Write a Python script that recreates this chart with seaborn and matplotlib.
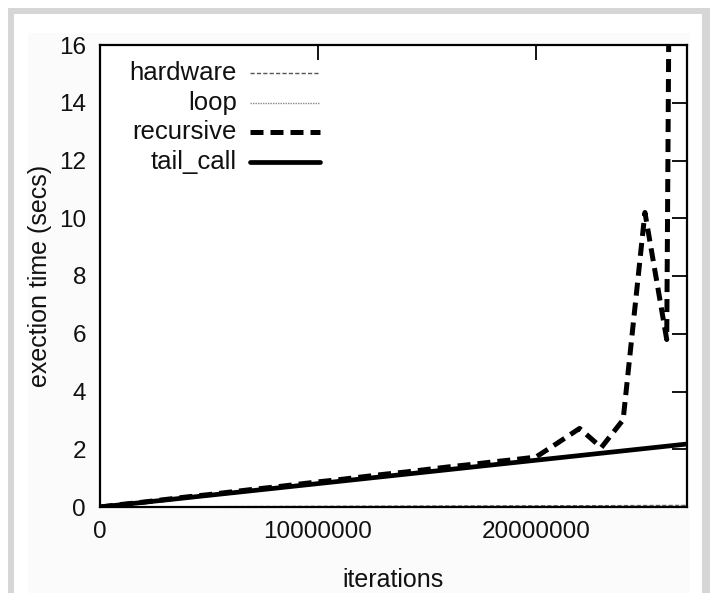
import matplotlib
matplotlib.use("Agg")
import matplotlib.pyplot as plt
from matplotlib.patches import Rectangle
from matplotlib.lines import Line2D
import seaborn as sns
import pandas as pd

# Benchmark timings, one sample every million iterations
iterations = [i * 1_000_000 for i in range(28)]

hardware = [0.0, 0.002, 0.004, 0.006, 0.008, 0.01, 0.012, 0.014, 0.016, 0.018,
            0.02, 0.022, 0.024, 0.026, 0.028, 0.03, 0.032, 0.034, 0.036, 0.038,
            0.04, 0.042, 0.044, 0.046, 0.048, 0.05, 0.052, 0.054]
loop = [0.0, 0.001, 0.002, 0.003, 0.004, 0.005, 0.006, 0.007, 0.008, 0.009,
        0.01, 0.011, 0.012, 0.013, 0.014, 0.015, 0.016, 0.017, 0.018, 0.019,
        0.02, 0.021, 0.022, 0.023, 0.024, 0.025, 0.026, 0.027]
recursive = [0.0, 0.09, 0.17, 0.26, 0.35, 0.43, 0.52, 0.61, 0.69, 0.78,
             0.87, 0.95, 1.04, 1.13, 1.21, 1.30, 1.39, 1.47, 1.56, 1.64,
             1.73, 2.22, 2.72, 2.06, 3.02, 10.2, 5.8, 120.0]
tail_call = [0.0, 0.081, 0.162, 0.243, 0.324, 0.405, 0.486, 0.567, 0.648, 0.729,
             0.81, 0.891, 0.972, 1.053, 1.134, 1.215, 1.296, 1.377, 1.458, 1.539,
             1.62, 1.701, 1.782, 1.863, 1.944, 2.025, 2.106, 2.187]

series_names = ["hardware", "loop", "recursive", "tail_call"]
series_values = [hardware, loop, recursive, tail_call]

x_ticks = [0, 10_000_000, 20_000_000]
y_ticks = [0, 2, 4, 6, 8, 10, 12, 14, 16]

df = pd.DataFrame({
    "iterations": iterations * len(series_names),
    "time": [v for vals in series_values for v in vals],
    "series": [n for n in series_names for _ in iterations],
})

styles = {
    "hardware": dict(color="#555555", lw=1.0, ls=(0, (3, 1.6))),
    "loop": dict(color="#888888", lw=1.0, ls=(0, (1, 0.8))),
    "recursive": dict(color="black", lw=3.6, ls=(0, (2.6, 1.4))),
    "tail_call": dict(color="black", lw=3.4, ls="-"),
}

sns.set_style("white")
plt.rcParams["font.family"] = ["Liberation Sans", "DejaVu Sans"]

fig = plt.figure(figsize=(7.1, 5.93), dpi=100)
fig.patch.set_facecolor("white")

# Grey page frame
W, H = 710, 593
def px_rect(x0, y0, x1, y1, color):
    fig.patches.append(Rectangle((x0 / W, 1 - y1 / H), (x1 - x0) / W, (y1 - y0) / H,
                                 transform=fig.transFigure, color=color, lw=0, zorder=-10))
px_rect(8, 8, 710, 14, "#d6d6d6")
px_rect(8, 8, 14, 593, "#d6d6d6")
px_rect(702, 8, 710, 593, "#d6d6d6")
px_rect(28, 33, 690, 593, "#fbfbfb")

ax = fig.add_axes([100 / W, 1 - 507 / H, (687 - 100) / W, (507 - 45) / H])
ax.set_facecolor("white")

for name in series_names:
    st = styles[name]
    sns.lineplot(data=df[df["series"] == name], x="iterations", y="time", ax=ax,
                 color=st["color"], linewidth=st["lw"], linestyle=st["ls"],
                 legend=False, estimator=None, sort=False, zorder=3)

ax.set_xlim(0, 26_930_000)
ax.set_ylim(0, 16)
ax.set_xticks(x_ticks)
ax.set_xticklabels([str(t) for t in x_ticks])
ax.set_yticks(y_ticks)
ax.set_yticklabels([str(t) for t in y_ticks])

ax.tick_params(direction="in", top=True, right=True, labeltop=False, labelright=False,
               length=11, width=1.3, color="black", labelsize=17.5, pad=10,
               labelcolor="#111111")
for sp in ax.spines.values():
    sp.set_visible(True)
    sp.set_color("black")
    sp.set_linewidth(1.6)
    sp.set_zorder(5)

ax.set_xlabel("iterations", fontsize=18, color="#111111", labelpad=18)
ax.set_ylabel("exection time (secs)", fontsize=18, color="#111111", labelpad=5)

# Key in the upper left: right-aligned names followed by sample lines
label_right = 0.2334
line_x = (0.2555, 0.3748)
row_y = [0.9394, 0.8745, 0.8117, 0.7468]
for name, y in zip(series_names, row_y):
    st = styles[name]
    ax.text(label_right, y, name, transform=ax.transAxes, ha="right", va="center",
            fontsize=18.5, color="#111111", zorder=6)
    ax.add_line(Line2D(line_x, (y, y), transform=ax.transAxes, color=st["color"],
                       lw=st["lw"], ls=st["ls"], zorder=6))

fig.savefig("out.png", dpi=100, facecolor=fig.get_facecolor())
